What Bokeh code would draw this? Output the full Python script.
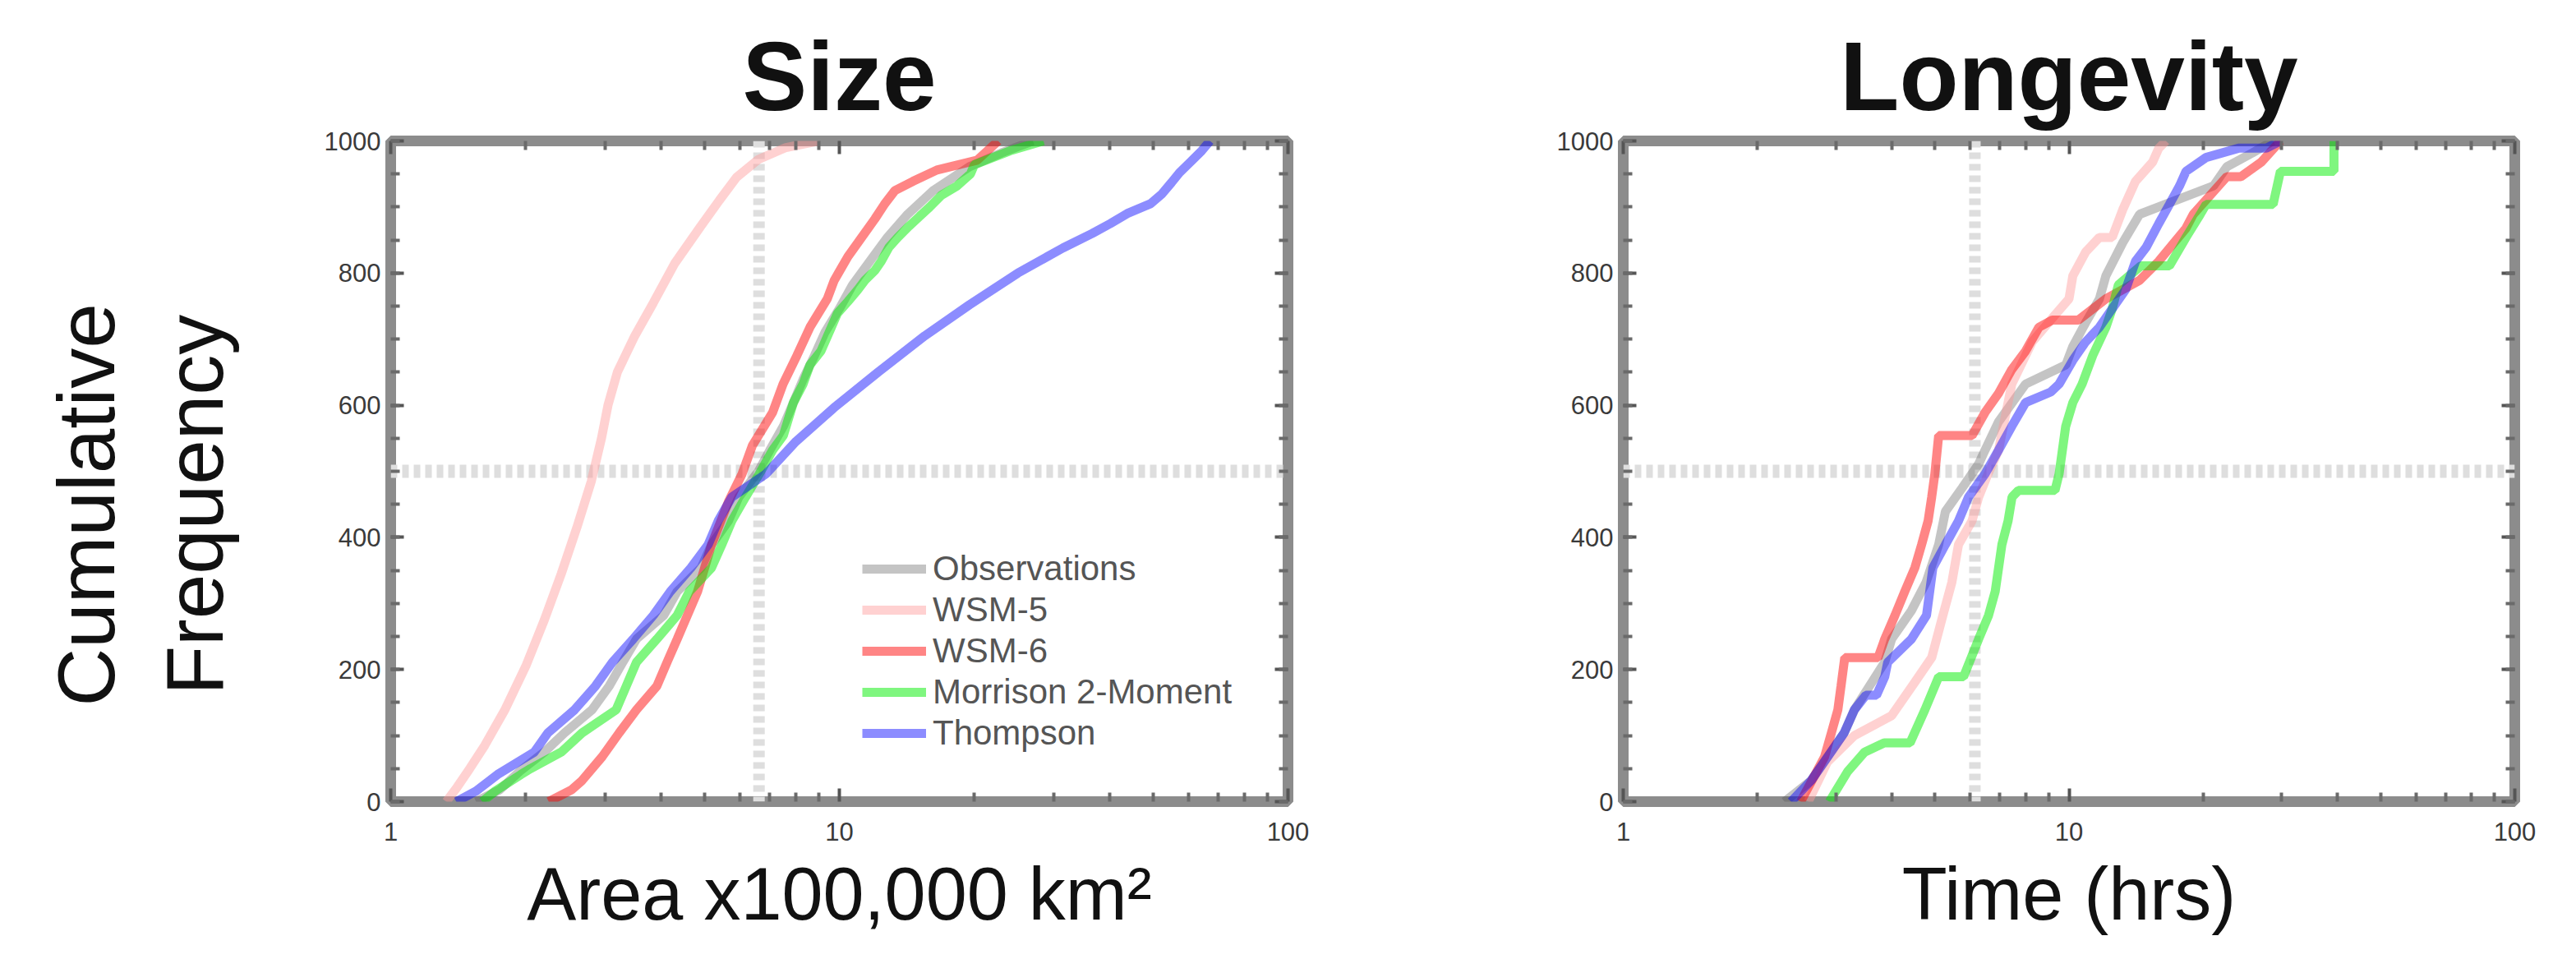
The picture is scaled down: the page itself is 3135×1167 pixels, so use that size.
from bokeh.plotting import figure
from bokeh.models import (LogAxis, LinearAxis, FixedTicker, Span, Legend, LegendItem,
                          BasicTickFormatter)
from bokeh.layouts import row
from bokeh.embed import file_html
from bokeh.resources import INLINE

FONT = "Liberation Sans"

# ---------------- data: Size panel (area, x100,000 km^2) ----------------
size_obs_x = [1.55, 1.75, 1.94, 2.2, 2.44, 2.81, 3.07, 3.29, 3.53, 4.06, 4.35, 4.92, 5.19, 5.66, 5.97,
              6.6, 7.0, 7.5, 7.9, 8.3, 8.8, 9.3, 10.0, 10.7, 11.7, 12.8, 14.2, 16.2, 19.5, 23.0, 27.0]
size_obs_y = [0, 18, 46, 75, 104, 139, 175, 211, 246, 282, 318, 354, 389, 425, 461,
              500, 532, 568, 604, 639, 675, 711, 746, 782, 818, 854, 889, 925, 961, 982, 1000]

size_wsm5_x = [1.33, 1.40, 1.50, 1.62, 1.80, 2.0, 2.2, 2.4, 2.6, 2.8, 2.95, 3.05, 3.2, 3.5, 3.85,
               4.3, 4.9, 5.4, 5.9, 6.6, 7.6, 9.0]
size_wsm5_y = [0, 20, 50, 85, 140, 205, 275, 345, 415, 485, 550, 600, 650, 705, 755,
               815, 870, 910, 945, 972, 990, 1000]

size_wsm6_x = [2.25, 2.53, 2.67, 2.96, 3.23, 3.53, 3.92, 4.13, 4.35, 4.83, 5.19, 5.66, 6.07, 6.4, 7.1,
               7.49, 8.04, 8.6, 9.4, 9.74, 10.45, 11.0, 12.0, 12.6, 13.3, 14.6, 16.5, 20.3, 22.6]
size_wsm6_y = [0, 18, 32, 68, 104, 139, 175, 211, 246, 318, 389, 454, 496, 539, 589,
               632, 675, 718, 761, 789, 825, 846, 882, 904, 925, 939, 956, 971, 1000]

size_morr_x = [1.6, 1.71, 1.95, 2.05, 2.40, 2.67, 3.18, 3.35, 3.53, 3.92, 4.35, 4.63, 5.19, 5.47, 5.76,
               6.18, 6.63, 7.1, 7.5, 7.9, 8.3, 8.6, 9.1, 9.4, 9.9, 10.45, 11.0, 11.4, 12.0, 12.4,
               12.9, 13.5, 14.3, 15.1, 15.9, 16.9, 18.3, 19.6, 20.0, 24.0, 28.5]
size_morr_y = [0, 16, 41, 50, 75, 104, 139, 175, 211, 246, 282, 318, 354, 389, 425,
               461, 496, 532, 554, 604, 632, 661, 682, 704, 739, 757, 775, 789, 804, 818,
               839, 854, 871, 886, 900, 918, 932, 950, 964, 985, 1000]

size_thom_x = [1.40, 1.55, 1.73, 2.09, 2.24, 2.57, 2.86, 3.12, 3.47, 3.85, 4.2, 4.67, 5.1, 5.37, 5.76,
               6.86, 8.0, 9.8, 12.2, 15.5, 19.5, 25.0, 31.5, 36.6, 40.2, 43.8, 49.4, 52.4, 55.0, 57.3,
               60.8, 64.2, 67.0]
size_thom_y = [0, 16, 41, 75, 104, 139, 175, 211, 246, 282, 318, 354, 389, 425, 461,
               496, 545, 598, 650, 705, 752, 800, 838, 860, 875, 890, 905, 920, 937, 952,
               969, 985, 1000]

# ---------------- data: Longevity panel (hours) ----------------
long_obs_x = [2.3, 2.64, 3.13, 3.3, 3.86, 4.0, 4.43, 4.78, 5.1, 5.28, 5.76, 6.27, 6.48, 6.95, 7.99,
              9.84, 10.2, 10.9, 11.7, 12.1, 13.2, 14.4, 21.1, 22.6, 25.8, 28.7]
long_obs_y = [0, 32, 104, 139, 211, 246, 289, 332, 389, 439, 475, 511, 532, 575, 632,
              661, 689, 725, 761, 796, 846, 889, 932, 961, 982, 1000]

long_wsm5_x = [2.6, 2.87, 3.3, 4.0, 4.5, 4.92, 5.18, 5.46, 5.65, 6.06, 6.27, 6.58, 6.95, 7.44, 8.27,
               9.18, 10.0, 10.2, 10.9, 11.7, 12.5, 13.2, 14.1, 15.4, 15.9, 16.5]
long_wsm5_y = [0, 60, 100, 130, 180, 218, 275, 332, 389, 425, 461, 496, 532, 632, 696,
               732, 761, 796, 832, 854, 854, 896, 939, 968, 989, 1000]

long_wsm6_x = [2.5, 2.83, 2.93, 3.03, 3.08, 3.14, 3.73, 3.86, 4.07, 4.28, 4.51, 4.67, 4.83, 4.92, 5.0,
               5.1, 6.06, 6.48, 6.95, 7.44, 7.99, 8.56, 9.18, 10.5, 12.1, 14.4, 15.9, 18.3, 19.0, 22.6,
               24.3, 27.0, 29.8]
long_wsm6_y = [0, 68, 104, 139, 175, 218, 218, 246, 282, 318, 354, 389, 425, 461, 496,
               554, 554, 589, 618, 654, 682, 718, 729, 729, 761, 789, 818, 868, 889, 946,
               946, 968, 1000]

long_morr_x = [2.9, 3.19, 3.48, 3.85, 4.4, 4.75, 5.1, 5.8, 6.27, 6.6, 6.83, 7.07, 7.3, 7.45, 7.7,
               9.3, 9.5, 9.83, 10.2, 10.7, 11.3, 12.1, 12.5, 12.9, 14.5, 16.8, 18.3, 19.7, 20.3, 28.7,
               29.8, 39.3, 39.3]
long_morr_y = [0, 46, 75, 89, 89, 139, 189, 189, 246, 282, 318, 389, 425, 461, 471,
               471, 496, 568, 604, 632, 675, 718, 746, 782, 811, 811, 854, 889, 904, 904,
               954, 954, 1000]

long_thom_x = [2.38, 2.64, 2.83, 3.13, 3.3, 3.5, 3.7, 3.86, 3.92, 4.43, 4.79, 4.95, 5.28, 5.65, 5.95,
               6.48, 6.95, 7.44, 7.99, 9.1, 9.5, 10.2, 10.9, 11.7, 12.5, 13.4, 14.1, 14.9, 15.9, 16.8,
               17.7, 18.3, 20.3, 24.0, 27.7, 29.8]
long_thom_y = [0, 32, 61, 104, 139, 161, 161, 189, 211, 246, 282, 354, 389, 425, 461,
               496, 532, 568, 604, 620, 632, 668, 696, 718, 746, 775, 818, 839, 875, 904,
               932, 954, 975, 989, 989, 1000]

series_names = ["Observations", "WSM-5", "WSM-6", "Morrison 2-Moment", "Thompson"]
series_colors = ["#555555", "#ff9a9a", "#ff0000", "#00ee00", "#0000ff"]
series_alphas = [0.35, 0.45, 0.48, 0.5, 0.45]

y_ticks = [0, 200, 400, 600, 800, 1000]
y_minor = list(range(0, 1001, 50))
x_ticks = [1, 10, 100]
x_minor = [2, 3, 4, 5, 6, 7, 8, 9, 20, 30, 40, 50, 60, 70, 80, 90]
median_size = 6.62
median_long = 6.15
NB = "\u00a0\u00a0\u00a0"
y_label = "Cumulative" + NB + "\nFrequency" + NB


def style_axis(ax, show_labels=True):
    ax.axis_line_color = None
    ax.major_tick_in = 16
    ax.major_tick_out = 0
    ax.minor_tick_in = 11
    ax.minor_tick_out = 0
    ax.major_tick_line_color = "#555555"
    ax.minor_tick_line_color = "#6a6a6a"
    ax.major_tick_line_width = 4
    ax.minor_tick_line_width = 4
    ax.major_label_text_font = FONT
    if show_labels:
        ax.major_label_text_font_size = "31px"
        ax.major_label_text_color = "#3a3a3a"
    else:
        ax.major_label_text_font_size = "2px"
        ax.major_label_text_color = "white"
        ax.major_label_text_alpha = 0
        ax.major_label_standoff = 0


def make_panel(title, xs, ys, xlabel, ylabel, median, border_left, border_right, frame_w, legend):
    p = figure(title=title, x_axis_type="log", x_range=(1, 100), y_range=(0, 1000),
               frame_width=frame_w, frame_height=804,
               min_border_left=border_left, min_border_right=border_right,
               min_border_top=171, min_border_bottom=176,
               output_backend="svg", toolbar_location=None)
    p.background_fill_color = "white"
    p.border_fill_color = "white"
    p.grid.visible = False
    p.outline_line_color = "#8c8c8c"
    p.outline_line_width = 13

    p.title.text_font = FONT
    p.title.text_font_size = "118px"
    p.title.text_font_style = "bold"
    p.title.text_color = "#111111"
    p.title.align = "center"
    p.title.standoff = 26

    xa = p.xaxis[0]
    xa.ticker = FixedTicker(ticks=x_ticks, minor_ticks=x_minor)
    xa.formatter = BasicTickFormatter()
    style_axis(xa)
    xa.major_label_standoff = 25
    xa.axis_label = xlabel
    xa.axis_label_text_font = FONT
    xa.axis_label_text_font_size = "90px"
    xa.axis_label_text_font_style = "normal"
    xa.axis_label_text_color = "#111111"
    xa.axis_label_standoff = 12

    ya = p.yaxis[0]
    ya.ticker = FixedTicker(ticks=y_ticks, minor_ticks=y_minor)
    style_axis(ya)
    ya.major_label_standoff = 12
    if ylabel:
        ya.axis_label = ylabel
        ya.axis_label_text_font = FONT
        ya.axis_label_text_font_size = "98px"
        ya.axis_label_text_font_style = "normal"
        ya.axis_label_text_color = "#111111"
        ya.axis_label_standoff = 100

    top = LogAxis(ticker=FixedTicker(ticks=x_ticks, minor_ticks=x_minor))
    style_axis(top, show_labels=False)
    p.add_layout(top, "above")
    right = LinearAxis(ticker=FixedTicker(ticks=y_ticks, minor_ticks=y_minor))
    style_axis(right, show_labels=False)
    p.add_layout(right, "right")

    p.add_layout(Span(location=500, dimension="width", line_color="#dedede",
                      line_width=16, line_dash="8 6", level="underlay"))
    p.add_layout(Span(location=median, dimension="height", line_color="#dedede",
                      line_width=14, line_dash="8 6", level="underlay"))

    items = []
    for name, c, a, x, y in zip(series_names, series_colors, series_alphas, xs, ys):
        r = p.line(x, y, line_color=c, line_alpha=a, line_width=11)
        items.append(LegendItem(label=name, renderers=[r]))

    if legend:
        lg = Legend(items=items, location=(574, 59))
        lg.label_text_font = FONT
        lg.label_text_font_size = "42px"
        lg.label_text_color = "#555555"
        lg.glyph_width = 78
        lg.glyph_height = 44
        lg.label_height = 44
        lg.spacing = 2
        lg.padding = 0
        lg.margin = 0
        lg.label_standoff = 8
        lg.border_line_color = None
        lg.background_fill_alpha = 0
        p.add_layout(lg)
    return p


p1 = make_panel("Size",
                [size_obs_x, size_wsm5_x, size_wsm6_x, size_morr_x, size_thom_x],
                [size_obs_y, size_wsm5_y, size_wsm6_y, size_morr_y, size_thom_y],
                "Area x100,000 km\u00b2", y_label, median_size,
                475, 100, 1092, True)
p2 = make_panel("Longevity",
                [long_obs_x, long_wsm5_x, long_wsm6_x, long_morr_x, long_thom_x],
                [long_obs_y, long_wsm5_y, long_wsm6_y, long_morr_y, long_thom_y],
                "Time (hrs)", None, median_long,
                308, 45, 1085, False)

layout = row(p1, p2)
open("out.html", "w").write(file_html(layout, INLINE))
